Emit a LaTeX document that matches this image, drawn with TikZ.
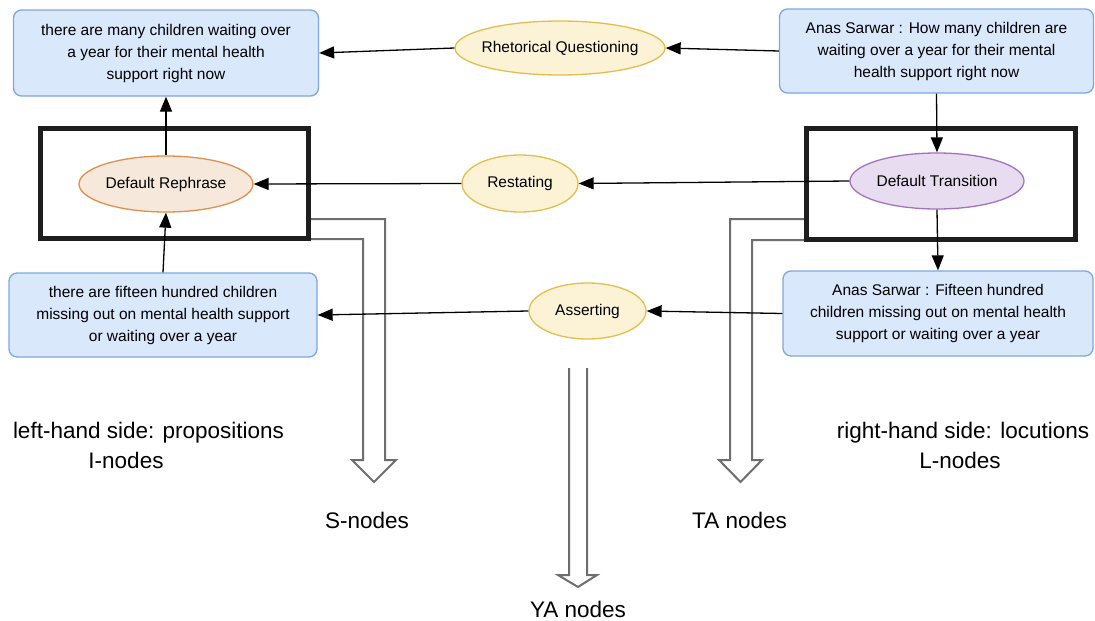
\documentclass[tikz,border=0pt]{standalone}
\usepackage{fontspec}
\setmainfont{Liberation Sans}
\usetikzlibrary{shapes.geometric,arrows.meta}
\definecolor{bfill}{HTML}{DAE8FC}
\definecolor{bline}{HTML}{7EA6E0}
\definecolor{yfill}{HTML}{FCF3D6}
\definecolor{yline}{HTML}{E3BE4B}
\definecolor{ofill}{HTML}{F6E8DA}
\definecolor{oline}{HTML}{E08F4E}
\definecolor{pfill}{HTML}{E8DCF0}
\definecolor{pline}{HTML}{A372C0}
\definecolor{hollow}{HTML}{6E6E6E}
\definecolor{frame}{HTML}{1E1E1E}
\begin{document}
\begin{tikzpicture}[x=1pt,y=-1pt,
  box/.style={draw=bline, fill=bfill, rounded corners=8pt, line width=1.3pt, align=center, inner sep=0pt, font=\fontsize{15.5}{22}\selectfont},
  oval/.style={ellipse, line width=1.3pt, inner sep=0pt, font=\fontsize{15.5}{18}\selectfont},
  grp/.style={draw=frame, line width=5pt, inner sep=0pt},
  conn/.style={line width=1.3pt, -{Triangle[length=15pt,width=12pt]}},
  hol/.style={draw=hollow, line width=2pt, fill=white, line join=miter},
  lab/.style={font=\fontsize{22.5}{30}\selectfont, inner sep=0pt, text height=16pt, text depth=0pt}
]
\useasboundingbox (0,0) rectangle (1095,621);

% hollow arrows
\draw[hol] (310,219) -- (385,219) -- (385,460) -- (396,460) -- (374,482) -- (352,460) -- (363,460) -- (363,239) -- (310,239);
\draw[hol] (806,219) -- (730,219) -- (730,460) -- (719,460) -- (740.5,482) -- (762,460) -- (752,460) -- (752,240) -- (806,240);
\draw[hol] (569,368) -- (569,575) -- (558,575) -- (578,587) -- (597,575) -- (587,575) -- (587,368);

% group frames
\node[grp, minimum width=268pt, minimum height=110pt] (Lgrp) at (174,183) {};
\node[grp, minimum width=269pt, minimum height=111pt] (Rgrp) at (940.5,183.5) {};

% text boxes
\node[box, minimum width=305pt, minimum height=86pt] (TL) at (166,53) {there are many children waiting over\\a year for their mental health\\support right now};
\node[box, minimum width=314pt, minimum height=84pt] (TR) at (936.5,51) {Anas Sarwar : How many children are\\waiting over a year for their mental\\health support right now};
\node[box, minimum width=308pt, minimum height=84pt] (BL) at (163,315) {there are fifteen hundred children\\missing out on mental health support\\or waiting over a year};
\node[box, minimum width=310pt, minimum height=85pt] (BR) at (938,313.5) {Anas Sarwar : Fifteen hundred\\children missing out on mental health\\support or waiting over a year};

% ellipses
\node[oval, draw=yline, fill=yfill, minimum width=210pt, minimum height=54pt] (RQ) at (560,48) {\makebox[0pt]{Rhetorical Questioning}};
\node[oval, draw=oline, fill=ofill, minimum width=174pt, minimum height=56pt] (DR) at (166,184) {\makebox[0pt]{Default Rephrase}};
\node[oval, draw=yline, fill=yfill, minimum width=116pt, minimum height=57pt] (RS) at (520,183.5) {\makebox[0pt]{Restating}};
\node[oval, draw=pline, fill=pfill, minimum width=174pt, minimum height=56pt] (DT) at (937,181) {\makebox[0pt]{Default Transition}};
\node[oval, draw=yline, fill=yfill, minimum width=117pt, minimum height=56pt] (AS) at (587.5,311) {\makebox[0pt]{Asserting}};

% connectors
\draw[conn] (TR.west) -- (RQ.east);
\draw[conn] (RQ.west) -- (TL.east);
\draw[conn] (DT.west) -- (RS.east);
\draw[conn] (RS.west) -- (DR.east);
\draw[conn] (BR.west) -- (AS.east);
\draw[conn] (AS.west) -- (BL.east);
\draw[conn] (TR.south) -- (DT.north);
\draw[conn] (DT.south) -- (BR.north);
\draw[conn] (DR.north) -- (TL.south);
\draw[conn] (BL.north) -- (DR.south);

% labels
\node[lab] (lhs1) at (148.5,430) {left-hand side: propositions};
\node[lab] (lhs2) at (126,460) {I-nodes};
\node[lab] (rhs1) at (963,430) {right-hand side: locutions};
\node[lab] (rhs2) at (960,460) {L-nodes};
\node[lab] (snodes) at (367,520) {S-nodes};
\node[lab] (tanodes) at (739.5,520) {TA nodes};
\node[lab] (yanodes) at (578,609) {YA nodes};
\end{tikzpicture}
\end{document}
